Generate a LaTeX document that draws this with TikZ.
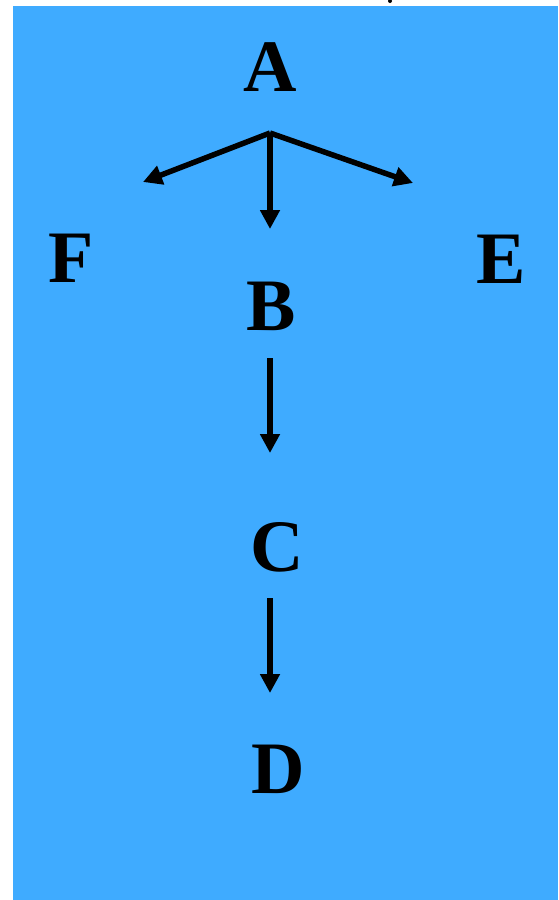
\documentclass[tikz,border=0pt]{standalone}
\usepackage{fontspec}
\setmainfont{Liberation Serif}
\usetikzlibrary{arrows.meta}
\definecolor{bgblue}{RGB}{63,171,255}
\begin{document}
\begin{tikzpicture}[x=1pt,y=-1pt,
  letter/.style={anchor=base,inner sep=0pt,font=\fontsize{74}{80}\selectfont\bfseries},
  conn/.style={line width=5.5pt,-{Triangle[length=19pt,width=19pt]}}]
\useasboundingbox (0,0) rectangle (558,900);
\fill[bgblue] (13,6) rectangle (558,900);
\fill[black] (390,1) circle (2);
\node[letter] (A) at (270,91) {A};
\node[letter] (F) at (71,282) {F};
\node[letter] (E) at (501,283) {E};
\node[letter] (B) at (271,330) {B};
\node[letter] (C) at (277,571) {C};
\node[letter] (D) at (278,793) {D};
\coordinate (hub) at (270,133);
\coordinate (tF) at (143,182);
\coordinate (tE) at (413,183);
\coordinate (tB) at (270,229);
\coordinate (sC) at (270,358);
\coordinate (tC) at (270,453);
\coordinate (sD) at (270,598);
\coordinate (tD) at (270,693);
\draw[conn] (hub) -- (tF);
\draw[conn] (hub) -- (tE);
\draw[conn] (hub) -- (tB);
\draw[conn] (sC) -- (tC);
\draw[conn] (sD) -- (tD);
\end{tikzpicture}
\end{document}
